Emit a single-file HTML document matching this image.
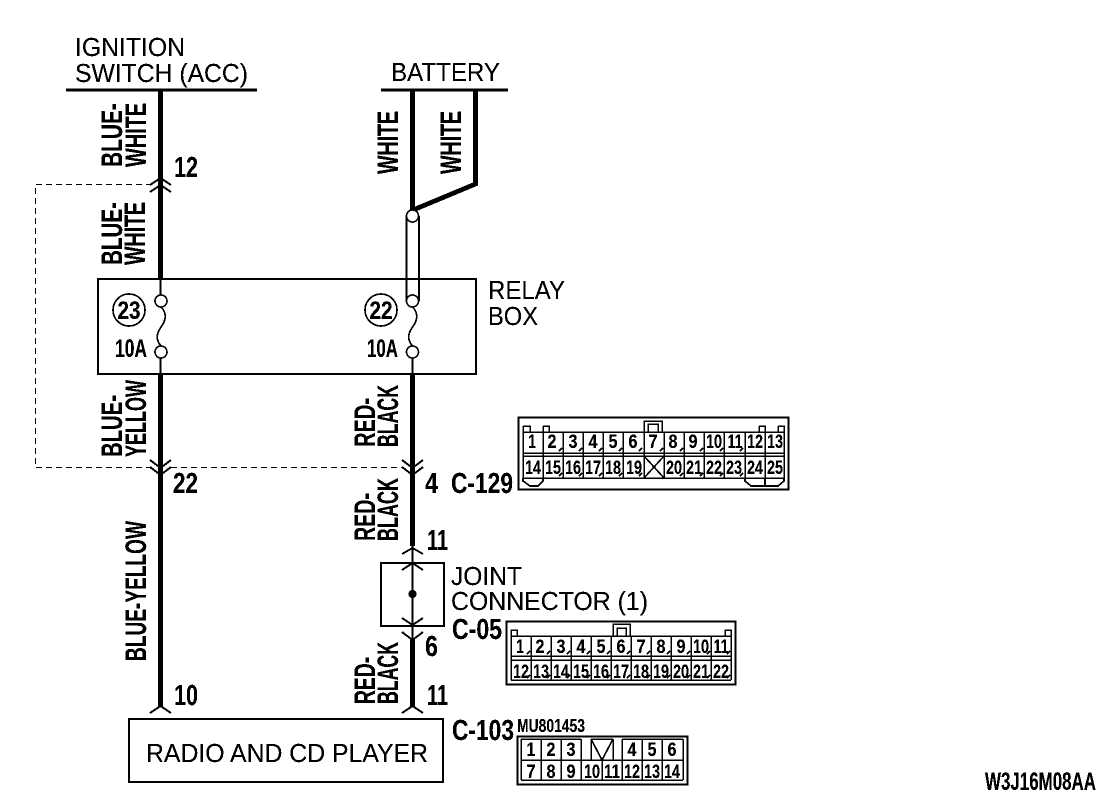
<!DOCTYPE html>
<html><head><meta charset="utf-8"><style>
html,body{margin:0;padding:0;background:#fff}
svg{display:block}
text{font-family:"Liberation Sans",sans-serif;fill:#000}
.n{font-size:26px}
.r{font-size:30px;font-weight:bold}
.b{font-size:29px;font-weight:bold}
.c{font-size:19px;font-weight:bold;text-anchor:middle}
line,path,rect,circle{fill:none;stroke:#000}
</style></head><body>
<svg width="1120" height="802" viewBox="0 0 1120 802" xmlns="http://www.w3.org/2000/svg">
<defs><filter id="t" x="0" y="0" width="1120" height="802" filterUnits="userSpaceOnUse" color-interpolation-filters="sRGB"><feComponentTransfer><feFuncA type="discrete" tableValues="0 1 1"/></feComponentTransfer></filter></defs>
<g filter="url(#t)">
<!-- header text -->
<text class="n" x="75" y="56" textLength="110" lengthAdjust="spacingAndGlyphs">IGNITION</text>
<text class="n" x="75" y="82" textLength="173" lengthAdjust="spacingAndGlyphs">SWITCH (ACC)</text>
<text class="n" x="391" y="81" textLength="109" lengthAdjust="spacingAndGlyphs">BATTERY</text>
<line x1="66" y1="90" x2="257" y2="90" stroke-width="2.5"/>
<line x1="381" y1="90" x2="508" y2="90" stroke-width="2.5"/>
<!-- thick wires -->
<g stroke-width="5">
<line x1="160.5" y1="90" x2="160.5" y2="188"/>
<line x1="160.5" y1="188" x2="160.5" y2="279"/>
<line x1="412.5" y1="90" x2="412.5" y2="212"/>
<line x1="160.5" y1="374" x2="160.5" y2="707"/>
<line x1="412.5" y1="374" x2="412.5" y2="546"/>
<line x1="412.5" y1="638" x2="412.5" y2="707"/>
</g>
<path d="M475.5 90V184L413 210" stroke-width="4.5"/>
<!-- double thin wire -->
<g stroke-width="1.5">
<line x1="406.5" y1="216" x2="406.5" y2="301"/>
<line x1="419" y1="216" x2="419" y2="301"/>
<circle cx="412.5" cy="216" r="6" style="fill:#fff"/>
</g>
<!-- relay box -->
<rect x="98" y="279" width="378" height="95" stroke-width="2"/>
<g stroke-width="1.5">
<line x1="160.5" y1="279" x2="160.5" y2="295"/>
<line x1="160.5" y1="358" x2="160.5" y2="374"/>
<line x1="412.5" y1="358" x2="412.5" y2="374"/>
<circle cx="161" cy="301" r="6" style="fill:#fff"/>
<circle cx="161" cy="352" r="6" style="fill:#fff"/>
<circle cx="412.5" cy="301" r="6" style="fill:#fff"/>
<circle cx="412.5" cy="352" r="6" style="fill:#fff"/>
<path d="M161 307C168 314 165 322 161 327C157 333 155 339 161 346"/>
<path d="M412.5 307C419.5 314 416.5 322 412.5 327C408.5 333 406.5 339 412.5 346"/>
<circle cx="129" cy="310" r="16"/>
<circle cx="381" cy="310" r="16"/>
</g>
<text class="c" style="font-size:25px" x="129" y="319" textLength="23" lengthAdjust="spacingAndGlyphs">23</text>
<text class="c" style="font-size:25px" x="381" y="319" textLength="23" lengthAdjust="spacingAndGlyphs">22</text>
<text class="b" style="font-size:25px" x="115" y="357" textLength="32" lengthAdjust="spacingAndGlyphs">10A</text>
<text class="b" style="font-size:25px" x="367" y="357" textLength="31" lengthAdjust="spacingAndGlyphs">10A</text>
<text class="n" x="488" y="299" textLength="77" lengthAdjust="spacingAndGlyphs">RELAY</text>
<text class="n" x="488" y="325" textLength="50" lengthAdjust="spacingAndGlyphs">BOX</text>
<!-- dashed -->
<path d="M152 184.5H35.5V467.5H151" stroke-width="1" stroke-dasharray="6 4"/>
<line x1="171" y1="467.5" x2="402" y2="467.5" stroke-width="1" stroke-dasharray="6 4"/>
<!-- chevrons -->
<g stroke-width="1.8">
<path d="M150 185L160.5 178L171 185M150 192L160.5 185L171 192"/>
<path d="M150 460L160.5 468L171 460M150 467L160.5 475L171 467"/>
<path d="M402 460L412.5 468L423 460M402 467L412.5 475L423 467"/>
<path d="M402 554L412.5 548L423 554"/>
<path d="M402 570L412.5 563L423 570"/>
<path d="M402 618L412.5 625L423 618"/>
<path d="M402 632L412.5 640L423 632"/>
<path d="M150 713L160.5 706L171 713"/>
<path d="M402 713L412.5 706L423 713"/>
</g>
<!-- joint connector -->
<rect x="381" y="563" width="63" height="63" stroke-width="2"/>
<line x1="412.5" y1="546" x2="412.5" y2="640" stroke-width="1.5"/>
<circle cx="412.5" cy="594" r="3.5" style="fill:#000"/>
<text class="n" x="451" y="585" textLength="71" lengthAdjust="spacingAndGlyphs">JOINT</text>
<text class="n" x="451" y="610" textLength="197" lengthAdjust="spacingAndGlyphs">CONNECTOR (1)</text>
<!-- radio -->
<rect x="129" y="719" width="314" height="63" stroke-width="2"/>
<text class="n" x="146" y="762" textLength="282" lengthAdjust="spacingAndGlyphs">RADIO AND CD PLAYER</text>
<!-- rotated labels -->
<text class="r" transform="translate(122,167) rotate(-90)" textLength="64" lengthAdjust="spacingAndGlyphs">BLUE-</text>
<text class="r" transform="translate(146,167) rotate(-90)" textLength="64" lengthAdjust="spacingAndGlyphs">WHITE</text>
<text class="r" transform="translate(122,265) rotate(-90)" textLength="63" lengthAdjust="spacingAndGlyphs">BLUE-</text>
<text class="r" transform="translate(145,265) rotate(-90)" textLength="63" lengthAdjust="spacingAndGlyphs">WHITE</text>
<text class="r" transform="translate(122,457) rotate(-90)" textLength="62" lengthAdjust="spacingAndGlyphs">BLUE-</text>
<text class="r" transform="translate(146,457) rotate(-90)" textLength="77" lengthAdjust="spacingAndGlyphs">YELLOW</text>
<text class="r" transform="translate(146,661) rotate(-90)" textLength="140" lengthAdjust="spacingAndGlyphs">BLUE-YELLOW</text>
<text class="r" transform="translate(398,174) rotate(-90)" textLength="63" lengthAdjust="spacingAndGlyphs">WHITE</text>
<text class="r" transform="translate(461,174) rotate(-90)" textLength="63" lengthAdjust="spacingAndGlyphs">WHITE</text>
<text class="r" transform="translate(375,447) rotate(-90)" textLength="49" lengthAdjust="spacingAndGlyphs">RED-</text>
<text class="r" transform="translate(398,447) rotate(-90)" textLength="62" lengthAdjust="spacingAndGlyphs">BLACK</text>
<text class="r" transform="translate(375,541) rotate(-90)" textLength="48" lengthAdjust="spacingAndGlyphs">RED-</text>
<text class="r" transform="translate(398,541) rotate(-90)" textLength="63" lengthAdjust="spacingAndGlyphs">BLACK</text>
<text class="r" transform="translate(375,704) rotate(-90)" textLength="47" lengthAdjust="spacingAndGlyphs">RED-</text>
<text class="r" transform="translate(398,704) rotate(-90)" textLength="62" lengthAdjust="spacingAndGlyphs">BLACK</text>
<!-- pin numbers -->
<text class="b" x="174" y="177" textLength="24" lengthAdjust="spacingAndGlyphs">12</text>
<text class="b" x="173" y="493" textLength="25" lengthAdjust="spacingAndGlyphs">22</text>
<text class="b" x="425" y="493" textLength="13" lengthAdjust="spacingAndGlyphs">4</text>
<text class="b" x="427" y="550" textLength="21" lengthAdjust="spacingAndGlyphs">11</text>
<text class="b" x="425" y="656" textLength="13" lengthAdjust="spacingAndGlyphs">6</text>
<text class="b" x="427" y="705" textLength="21" lengthAdjust="spacingAndGlyphs">11</text>
<text class="b" x="174" y="705" textLength="24" lengthAdjust="spacingAndGlyphs">10</text>
<text class="b" x="451" y="493" textLength="62" lengthAdjust="spacingAndGlyphs">C-129</text>
<text class="b" x="452" y="639" textLength="50" lengthAdjust="spacingAndGlyphs">C-05</text>
<text class="b" x="452" y="740" textLength="62" lengthAdjust="spacingAndGlyphs">C-103</text>
<text class="b" style="font-size:18px" x="517" y="732" textLength="68" lengthAdjust="spacingAndGlyphs">MU801453</text>
<text class="b" style="font-size:25px" x="985" y="790" textLength="111" lengthAdjust="spacingAndGlyphs">W3J16M08AA</text>

<!-- C-129 -->
<g stroke-width="1.5" shape-rendering="crispEdges">
<rect x="518.5" y="417.5" width="270" height="72" stroke-width="2"/>
<path d="M523 432H784M523 453H784M523 456H784M523 478H784M523 432V478M784 432V478"/>
<path d="M543 432V478M563 432V478M583 432V478M603 432V478M623 432V478M644 432V478M664 432V478M684 432V478M704 432V478M724 432V478M745 432V478M765 432V478"/>
<path d="M523 426H530V432M523 426V432M543 426H549V432M543 426V432M759 426H765V432M759 426V432M778 426H784V432M778 426V432"/>
<path d="M644 432V421H662V432M648 432V424H658V432"/>
</g>
<g stroke-width="1.5">
<path d="M644 456L664 478M664 456L644 478"/>
<path d="M523 478V481L530 486H538L543 481V478"/>
<path d="M745 478V481L751 486H778L784 481V478M765 478V486"/>
<path d="M559 451l3-3M579 451l3-3M599 451l3-3M619 451l3-3M639 451l3-3M660 451l3-3M680 451l3-3M700 451l3-3M720 451l3-3M740 451l3-3M559 476l3-3M579 476l3-3M599 476l3-3M619 476l3-3M639 476l3-3M680 476l3-3M700 476l3-3M720 476l3-3M740 476l3-3"/>
</g>
<g>
<text class="c" x="532" y="448" textLength="8" lengthAdjust="spacingAndGlyphs">1</text>
<text class="c" x="552" y="448" textLength="9" lengthAdjust="spacingAndGlyphs">2</text>
<text class="c" x="573" y="448" textLength="9" lengthAdjust="spacingAndGlyphs">3</text>
<text class="c" x="593" y="448" textLength="9" lengthAdjust="spacingAndGlyphs">4</text>
<text class="c" x="613" y="448" textLength="9" lengthAdjust="spacingAndGlyphs">5</text>
<text class="c" x="633" y="448" textLength="9" lengthAdjust="spacingAndGlyphs">6</text>
<text class="c" x="653" y="448" textLength="9" lengthAdjust="spacingAndGlyphs">7</text>
<text class="c" x="673" y="448" textLength="9" lengthAdjust="spacingAndGlyphs">8</text>
<text class="c" x="693" y="448" textLength="9" lengthAdjust="spacingAndGlyphs">9</text>
<text class="c" x="714" y="448" textLength="16" lengthAdjust="spacingAndGlyphs">10</text>
<text class="c" x="735" y="448" textLength="15" lengthAdjust="spacingAndGlyphs">11</text>
<text class="c" x="755" y="448" textLength="16" lengthAdjust="spacingAndGlyphs">12</text>
<text class="c" x="775" y="448" textLength="16" lengthAdjust="spacingAndGlyphs">13</text>
<text class="c" x="533" y="474" textLength="16" lengthAdjust="spacingAndGlyphs">14</text>
<text class="c" x="553" y="474" textLength="16" lengthAdjust="spacingAndGlyphs">15</text>
<text class="c" x="573" y="474" textLength="16" lengthAdjust="spacingAndGlyphs">16</text>
<text class="c" x="593" y="474" textLength="16" lengthAdjust="spacingAndGlyphs">17</text>
<text class="c" x="613" y="474" textLength="16" lengthAdjust="spacingAndGlyphs">18</text>
<text class="c" x="634" y="474" textLength="16" lengthAdjust="spacingAndGlyphs">19</text>
<text class="c" x="674" y="474" textLength="16" lengthAdjust="spacingAndGlyphs">20</text>
<text class="c" x="694" y="474" textLength="16" lengthAdjust="spacingAndGlyphs">21</text>
<text class="c" x="714" y="474" textLength="16" lengthAdjust="spacingAndGlyphs">22</text>
<text class="c" x="734" y="474" textLength="16" lengthAdjust="spacingAndGlyphs">23</text>
<text class="c" x="755" y="474" textLength="16" lengthAdjust="spacingAndGlyphs">24</text>
<text class="c" x="775" y="474" textLength="16" lengthAdjust="spacingAndGlyphs">25</text>
</g>

<!-- C-05 -->
<g stroke-width="1.5" shape-rendering="crispEdges">
<rect x="506.5" y="621.5" width="229" height="63" stroke-width="2"/>
<path d="M511 636H731M511 656H731M511 660H731M511 680H731M511 636V680M731 636V680"/>
<path d="M531 636V680M551 636V680M571 636V680M591 636V680M611 636V680M631 636V680M651 636V680M671 636V680M691 636V680M711 636V680"/>
<path d="M511 636V630H517V636M725 636V630H731V636"/>
<path d="M613 636V624H630V636M617 636V628H626V636"/>
</g>
<path stroke-width="1.5" d="M527 654l3-3M547 654l3-3M567 654l3-3M587 654l3-3M607 654l3-3M627 654l3-3M647 654l3-3M667 654l3-3M687 654l3-3M707 654l3-3M727 654l3-3M527 678l3-3M547 678l3-3M567 678l3-3M587 678l3-3M607 678l3-3M627 678l3-3M647 678l3-3M667 678l3-3M687 678l3-3M707 678l3-3M727 678l3-3"/>
<g>
<text class="c" x="520" y="653" textLength="8" lengthAdjust="spacingAndGlyphs">1</text>
<text class="c" x="540" y="653" textLength="9" lengthAdjust="spacingAndGlyphs">2</text>
<text class="c" x="561" y="653" textLength="9" lengthAdjust="spacingAndGlyphs">3</text>
<text class="c" x="581" y="653" textLength="9" lengthAdjust="spacingAndGlyphs">4</text>
<text class="c" x="601" y="653" textLength="9" lengthAdjust="spacingAndGlyphs">5</text>
<text class="c" x="621" y="653" textLength="9" lengthAdjust="spacingAndGlyphs">6</text>
<text class="c" x="641" y="653" textLength="9" lengthAdjust="spacingAndGlyphs">7</text>
<text class="c" x="661" y="653" textLength="9" lengthAdjust="spacingAndGlyphs">8</text>
<text class="c" x="681" y="653" textLength="9" lengthAdjust="spacingAndGlyphs">9</text>
<text class="c" x="701" y="653" textLength="16" lengthAdjust="spacingAndGlyphs">10</text>
<text class="c" x="721" y="653" textLength="15" lengthAdjust="spacingAndGlyphs">11</text>
<text class="c" x="521" y="678" textLength="16" lengthAdjust="spacingAndGlyphs">12</text>
<text class="c" x="541" y="678" textLength="16" lengthAdjust="spacingAndGlyphs">13</text>
<text class="c" x="561" y="678" textLength="16" lengthAdjust="spacingAndGlyphs">14</text>
<text class="c" x="581" y="678" textLength="16" lengthAdjust="spacingAndGlyphs">15</text>
<text class="c" x="601" y="678" textLength="16" lengthAdjust="spacingAndGlyphs">16</text>
<text class="c" x="621" y="678" textLength="16" lengthAdjust="spacingAndGlyphs">17</text>
<text class="c" x="641" y="678" textLength="16" lengthAdjust="spacingAndGlyphs">18</text>
<text class="c" x="661" y="678" textLength="16" lengthAdjust="spacingAndGlyphs">19</text>
<text class="c" x="681" y="678" textLength="16" lengthAdjust="spacingAndGlyphs">20</text>
<text class="c" x="701" y="678" textLength="16" lengthAdjust="spacingAndGlyphs">21</text>
<text class="c" x="721" y="678" textLength="16" lengthAdjust="spacingAndGlyphs">22</text>
</g>

<!-- C-103 -->
<g stroke-width="1.5" shape-rendering="crispEdges">
<rect x="517.5" y="736.5" width="170" height="48" stroke-width="2"/>
<path d="M521 739H581M591 739H613M622 739H683M521 760H683M521 780H683"/>
<path d="M521 739V780M541 739V780M561 739V780M581 739V780M683 739V780M622 739V780M642 739V780M662 739V780M602 760V780M591 739V760M613 739V760"/>
</g>
<path stroke-width="1.5" d="M591 739L602 760L613 739"/>
<g>
<text class="c" x="531" y="756" textLength="9" lengthAdjust="spacingAndGlyphs">1</text>
<text class="c" x="551" y="756" textLength="9" lengthAdjust="spacingAndGlyphs">2</text>
<text class="c" x="571" y="756" textLength="9" lengthAdjust="spacingAndGlyphs">3</text>
<text class="c" x="632" y="756" textLength="9" lengthAdjust="spacingAndGlyphs">4</text>
<text class="c" x="652" y="756" textLength="9" lengthAdjust="spacingAndGlyphs">5</text>
<text class="c" x="672" y="756" textLength="9" lengthAdjust="spacingAndGlyphs">6</text>
<text class="c" x="531" y="778" textLength="9" lengthAdjust="spacingAndGlyphs">7</text>
<text class="c" x="551" y="778" textLength="9" lengthAdjust="spacingAndGlyphs">8</text>
<text class="c" x="571" y="778" textLength="9" lengthAdjust="spacingAndGlyphs">9</text>
<text class="c" x="592" y="778" textLength="16" lengthAdjust="spacingAndGlyphs">10</text>
<text class="c" x="612" y="778" textLength="16" lengthAdjust="spacingAndGlyphs">11</text>
<text class="c" x="632" y="778" textLength="16" lengthAdjust="spacingAndGlyphs">12</text>
<text class="c" x="652" y="778" textLength="16" lengthAdjust="spacingAndGlyphs">13</text>
<text class="c" x="672" y="778" textLength="16" lengthAdjust="spacingAndGlyphs">14</text>
</g>
</g>
</svg>
</body></html>
